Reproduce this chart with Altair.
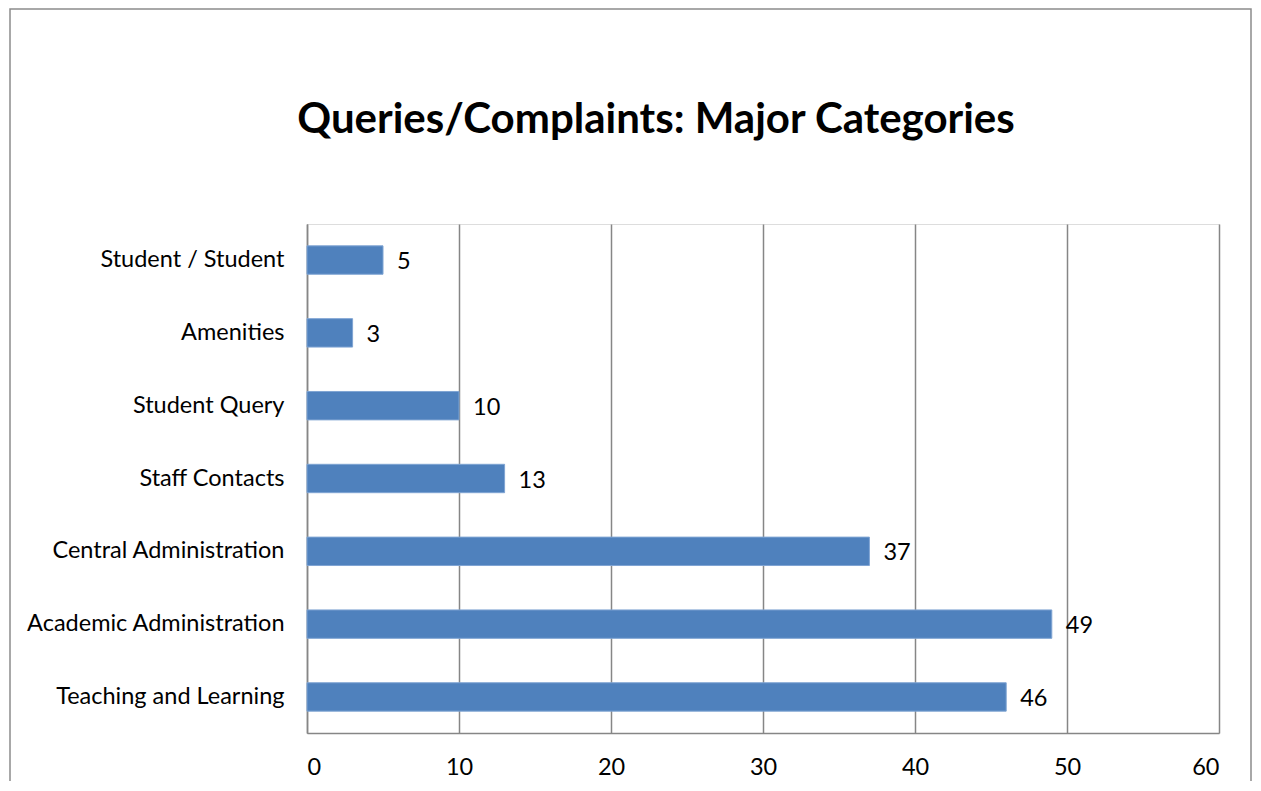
import altair as alt
import pandas as pd

categories = ["Student / Student", "Amenities", "Student Query", "Staff Contacts",
              "Central Administration", "Academic Administration", "Teaching and Learning"]
values = [5, 3, 10, 13, 37, 49, 46]
x_ticks = [0, 10, 20, 30, 40, 50, 60]
title_text = "Queries/Complaints: Major Categories"

df = pd.DataFrame({"category": categories, "value": values})

FONT = "Lato"
GRID = "#868686"
FS = 23.5

y_enc = alt.Y("category:N", sort=categories, title=None,
              scale=alt.Scale(paddingInner=0.61, paddingOuter=0.3),
              axis=alt.Axis(labelFontSize=FS, labelFont=FONT, labelColor="#000000",
                            labelPadding=23, labelLimit=400, ticks=False, domainColor=GRID,
                            domainWidth=1.5, grid=False))
x_enc = alt.X("value:Q", title=None,
              scale=alt.Scale(domain=[0, 60], nice=False),
              axis=alt.Axis(values=x_ticks, labelFontSize=FS, labelFont=FONT,
                            labelColor="#000000", labelPadding=22, ticks=False,
                            domainColor=GRID, domainWidth=1.5, grid=True,
                            gridColor=GRID, gridWidth=1.5))

bars = alt.Chart(df).mark_bar(color="#4F81BD", stroke="#7FA4D3", strokeWidth=1).encode(
    x=x_enc, y=y_enc)

labels = alt.Chart(df).mark_text(align="left", baseline="middle", dx=14, dy=2,
                                 fontSize=FS, font=FONT, color="#000000").encode(
    x="value:Q", y=alt.Y("category:N", sort=categories), text="value:Q")

one = pd.DataFrame({"k": [1]})
frame = alt.Chart(one).mark_rect(fill=None, stroke="#8c8c8c", strokeWidth=1.5).encode(
    x=alt.value(-297), x2=alt.value(944), y=alt.value(-215), y2=alt.value(620))

title = alt.Chart(one).mark_text(align="center", baseline="alphabetic", fontSize=42,
                                 font=FONT, fontWeight="bold", color="#000000").encode(
    x=alt.value(349), y=alt.value(-91), text=alt.value(title_text))

chart = alt.layer(frame, bars, labels, title).properties(
    width=912, height=509,
    padding={"left": 299, "top": 216, "right": 34, "bottom": 48},
    autosize=alt.AutoSizeParams(type="none"),
).configure_view(stroke="transparent", strokeWidth=0).configure(background="white")

chart.save("out.html", embed_options={"renderer": "svg", "actions": False})
